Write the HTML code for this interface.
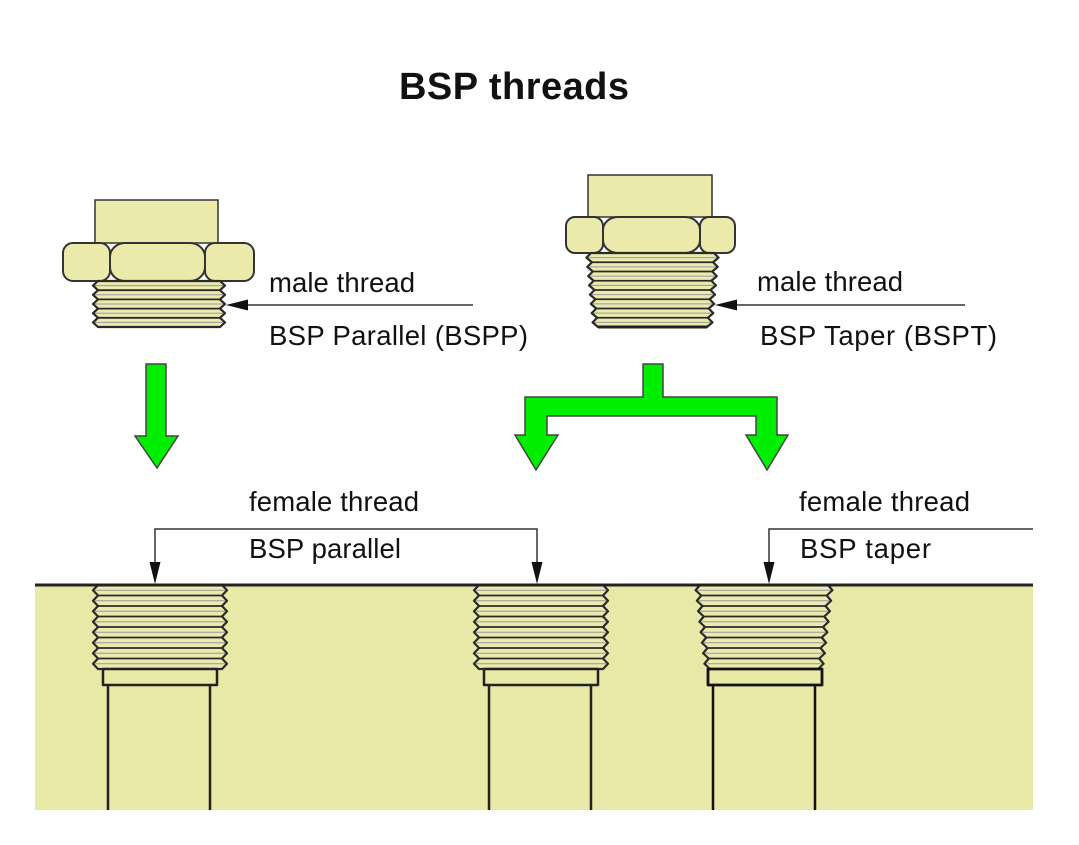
<!DOCTYPE html>
<html><head><meta charset="utf-8"><style>
html,body{margin:0;padding:0;background:#fff;}
svg{display:block;}
text{font-family:"Liberation Sans",Arial,sans-serif;fill:#111;}
</style></head><body>
<svg width="1079" height="845" viewBox="0 0 1079 845" xmlns="http://www.w3.org/2000/svg">
<defs>
  <g id="fpar">
    <path d="M5,0 L0,5.25 L5,10.5 L0,15.75 L5,21 L0,26.25 L5,31.5 L0,36.75 L5,42 L0,47.25 L5,52.5 L0,57.75 L5,63 L0,68.25 L5,73.5 L0,78.75 L5,84 L129,84 L134,78.75 L129,73.5 L134,68.25 L129,63 L134,57.75 L129,52.5 L134,47.25 L129,42 L134,36.75 L129,31.5 L134,26.25 L129,21 L134,15.75 L129,10.5 L134,5.25 L129,0 Z" fill="#ebebb0" stroke="#2a2a2a" stroke-width="2.2" stroke-linejoin="round"/>
    <g stroke="#2a2a2a" stroke-width="1.8">
      <line x1="5" y1="10.5" x2="129" y2="10.5"/><line x1="5" y1="21" x2="129" y2="21"/><line x1="5" y1="31.5" x2="129" y2="31.5"/><line x1="5" y1="42" x2="129" y2="42"/><line x1="5" y1="52.5" x2="129" y2="52.5"/><line x1="5" y1="63" x2="129" y2="63"/><line x1="5" y1="73.5" x2="129" y2="73.5"/>
    </g>
    <g stroke="#999" stroke-width="1">
      <line x1="2" y1="5.25" x2="132" y2="5.25"/><line x1="2" y1="15.75" x2="132" y2="15.75"/><line x1="2" y1="26.25" x2="132" y2="26.25"/><line x1="2" y1="36.75" x2="132" y2="36.75"/><line x1="2" y1="47.25" x2="132" y2="47.25"/><line x1="2" y1="57.75" x2="132" y2="57.75"/><line x1="2" y1="68.25" x2="132" y2="68.25"/><line x1="2" y1="78.75" x2="132" y2="78.75"/>
    </g>
    <rect x="10" y="84" width="114" height="16" fill="#e8e9a6" stroke="#222" stroke-width="2.5" stroke-linejoin="round"/>
    <line x1="15" y1="100" x2="15" y2="225" stroke="#222" stroke-width="2.5"/>
    <line x1="117" y1="100" x2="117" y2="225" stroke="#222" stroke-width="2.5"/>
  </g>
</defs>

<!-- Title -->
<text x="399" y="99" font-size="38" font-weight="bold" textLength="230">BSP threads</text>

<!-- Left male fitting -->
<rect x="95" y="200" width="123" height="43" fill="#ebeaab" stroke="#333" stroke-width="1.5"/>
<rect x="63" y="243" width="47" height="38" rx="10" ry="10" fill="#ebeaab" stroke="#333" stroke-width="2"/>
<rect x="205" y="243" width="49" height="38" rx="10" ry="10" fill="#ebeaab" stroke="#333" stroke-width="2"/>
<rect x="110" y="243" width="95" height="38" rx="15" ry="14" fill="#ebeaab" stroke="#333" stroke-width="2"/>
<g transform="translate(93,281)">
  <path d="M5,0 L0,4.6 L5,9.2 L0,13.8 L5,18.4 L0,23 L5,27.6 L0,32.2 L5,36.8 L0,41.4 L5,46 L127,46 L132,41.4 L127,36.8 L132,32.2 L127,27.6 L132,23 L127,18.4 L132,13.8 L127,9.2 L132,4.6 L127,0 Z" fill="#ebebb0" stroke="#2a2a2a" stroke-width="2.2" stroke-linejoin="round"/>
  <g stroke="#2a2a2a" stroke-width="1.8">
    <line x1="5" y1="9.2" x2="127" y2="9.2"/><line x1="5" y1="18.4" x2="127" y2="18.4"/><line x1="5" y1="27.6" x2="127" y2="27.6"/><line x1="5" y1="36.8" x2="127" y2="36.8"/>
  </g>
  <g stroke="#999" stroke-width="1">
    <line x1="2" y1="4.6" x2="130" y2="4.6"/><line x1="2" y1="13.8" x2="130" y2="13.8"/><line x1="2" y1="23" x2="130" y2="23"/><line x1="2" y1="32.2" x2="130" y2="32.2"/><line x1="2" y1="41.4" x2="130" y2="41.4"/>
  </g>
</g>

<!-- Right male fitting -->
<rect x="588" y="175" width="124" height="42" fill="#ebeaab" stroke="#333" stroke-width="1.5"/>
<rect x="566" y="217" width="37" height="36" rx="9" ry="9" fill="#ebeaab" stroke="#333" stroke-width="2"/>
<rect x="700" y="217" width="35" height="36" rx="9" ry="9" fill="#ebeaab" stroke="#333" stroke-width="2"/>
<rect x="603" y="217" width="97" height="36" rx="15" ry="13" fill="#ebeaab" stroke="#333" stroke-width="2"/>
<g transform="translate(586,253)">
  <path d="M5,0 L0.44,4.625 L5.875,9.25 L1.31,13.875 L6.75,18.5 L2.19,23.125 L7.625,27.75 L3.06,32.375 L8.5,37 L3.94,41.625 L9.375,46.25 L4.81,50.875 L10.25,55.5 L5.69,60.125 L11.125,64.75 L6.56,69.375 L12,74 L121,74 L126.44,69.375 L121.875,64.75 L127.31,60.125 L122.75,55.5 L128.19,50.875 L123.625,46.25 L129.06,41.625 L124.5,37 L129.94,32.375 L125.375,27.75 L130.81,23.125 L126.25,18.5 L131.69,13.875 L127.125,9.25 L132.56,4.625 L128,0 Z" fill="#ebebb0" stroke="#2a2a2a" stroke-width="2.2" stroke-linejoin="round"/>
  <g stroke="#2a2a2a" stroke-width="1.8">
    <line x1="5.9" y1="9.25" x2="127.1" y2="9.25"/><line x1="6.75" y1="18.5" x2="126.25" y2="18.5"/><line x1="7.6" y1="27.75" x2="125.4" y2="27.75"/><line x1="8.5" y1="37" x2="124.5" y2="37"/><line x1="9.4" y1="46.25" x2="123.6" y2="46.25"/><line x1="10.25" y1="55.5" x2="122.75" y2="55.5"/><line x1="11.1" y1="64.75" x2="121.9" y2="64.75"/>
  </g>
  <g stroke="#999" stroke-width="1">
    <line x1="2.5" y1="4.6" x2="130.5" y2="4.6"/><line x1="3.3" y1="13.9" x2="129.7" y2="13.9"/><line x1="4.2" y1="23.1" x2="128.8" y2="23.1"/><line x1="5" y1="32.4" x2="128" y2="32.4"/><line x1="5.9" y1="41.6" x2="127.1" y2="41.6"/><line x1="6.8" y1="50.9" x2="126.2" y2="50.9"/><line x1="7.7" y1="60.1" x2="125.3" y2="60.1"/><line x1="8.5" y1="69.4" x2="124.5" y2="69.4"/>
  </g>
  <line x1="12" y1="74" x2="121" y2="74" stroke="#222" stroke-width="3"/>
</g>

<!-- Male labels and arrows -->
<text x="269" y="292" font-size="27.5" textLength="146">male thread</text>
<text x="269" y="345" font-size="27.5" textLength="259">BSP Parallel (BSPP)</text>
<line x1="240" y1="305" x2="473" y2="305" stroke="#333" stroke-width="1.5"/>
<polygon points="226,305 248,299.5 248,310.5" fill="#111"/>

<text x="757" y="291" font-size="27.5" textLength="146">male thread</text>
<text x="760" y="345" font-size="27.5" textLength="237">BSP Taper (BSPT)</text>
<line x1="729" y1="305" x2="965" y2="305" stroke="#333" stroke-width="1.5"/>
<polygon points="715,305 737,299.5 737,310.5" fill="#111"/>

<!-- Green arrows -->
<polygon points="146,364 166,364 166,436 178,436 157,468 135,436 146,436" fill="#00ee00" stroke="#444" stroke-width="1.5" stroke-linejoin="miter"/>
<polygon points="643,364 663,364 663,397 777,397 777,435 788,435 767,470 746,435 756,435 756,416 547,416 547,435 558,435 536,470 515,435 525,435 525,397 643,397" fill="#00ee00" stroke="#444" stroke-width="1.5"/>

<!-- Female labels and brackets -->
<text x="249" y="511" font-size="27.5" textLength="170">female thread</text>
<text x="249" y="558" font-size="27.5" textLength="152">BSP parallel</text>
<polyline points="155,564 155,529 537,529 537,564" fill="none" stroke="#333" stroke-width="1.5"/>
<polygon points="155,584 149.5,562 160.5,562" fill="#111"/>
<polygon points="537,584 531.5,562 542.5,562" fill="#111"/>

<text x="799" y="511" font-size="27.5" textLength="171">female thread</text>
<text x="800" y="558" font-size="27.5" textLength="131">BSP taper</text>
<polyline points="1033,529 769,529 769,564" fill="none" stroke="#333" stroke-width="1.5"/>
<polygon points="769,584 763.5,562 774.5,562" fill="#111"/>

<!-- Body block -->
<rect x="35" y="585" width="998" height="225" fill="#e8e9a6"/>

<use href="#fpar" transform="translate(93,585)"/>
<use href="#fpar" transform="translate(474,585)"/>

<!-- Taper female -->
<g transform="translate(695,585)">
  <path d="M5,0 L0.6,5.25 L6.25,10.5 L1.9,15.75 L7.5,21 L3.1,26.25 L8.75,31.5 L4.4,36.75 L10,42 L5.6,47.25 L11.25,52.5 L6.9,57.75 L12.5,63 L8.1,68.25 L13.75,73.5 L9.4,78.75 L15,84 L123,84 L128.6,78.75 L124.25,73.5 L129.9,68.25 L125.5,63 L131.1,57.75 L126.75,52.5 L132.4,47.25 L128,42 L133.6,36.75 L129.25,31.5 L134.9,26.25 L130.5,21 L136.1,15.75 L131.75,10.5 L137.4,5.25 L133,0 Z" fill="#ebebb0" stroke="#2a2a2a" stroke-width="2.2" stroke-linejoin="round"/>
  <g stroke="#2a2a2a" stroke-width="1.8">
    <line x1="6.25" y1="10.5" x2="131.75" y2="10.5"/><line x1="7.5" y1="21" x2="130.5" y2="21"/><line x1="8.75" y1="31.5" x2="129.25" y2="31.5"/><line x1="10" y1="42" x2="128" y2="42"/><line x1="11.25" y1="52.5" x2="126.75" y2="52.5"/><line x1="12.5" y1="63" x2="125.5" y2="63"/><line x1="13.75" y1="73.5" x2="124.25" y2="73.5"/>
  </g>
  <g stroke="#999" stroke-width="1">
    <line x1="2.6" y1="5.25" x2="135.4" y2="5.25"/><line x1="3.9" y1="15.75" x2="134.1" y2="15.75"/><line x1="5.1" y1="26.25" x2="132.9" y2="26.25"/><line x1="6.4" y1="36.75" x2="131.6" y2="36.75"/><line x1="7.6" y1="47.25" x2="130.4" y2="47.25"/><line x1="8.9" y1="57.75" x2="129.1" y2="57.75"/><line x1="10.1" y1="68.25" x2="127.9" y2="68.25"/><line x1="11.4" y1="78.75" x2="126.6" y2="78.75"/>
  </g>
  <rect x="13" y="84" width="114" height="16" fill="#e8e9a6" stroke="#111" stroke-width="2.8" stroke-linejoin="round"/>
  <line x1="18" y1="100" x2="18" y2="225" stroke="#111" stroke-width="2.5"/>
  <line x1="120" y1="100" x2="120" y2="225" stroke="#111" stroke-width="2.5"/>
</g>

<line x1="35" y1="585" x2="1033" y2="585" stroke="#222" stroke-width="3"/>
</svg>
</body></html>
